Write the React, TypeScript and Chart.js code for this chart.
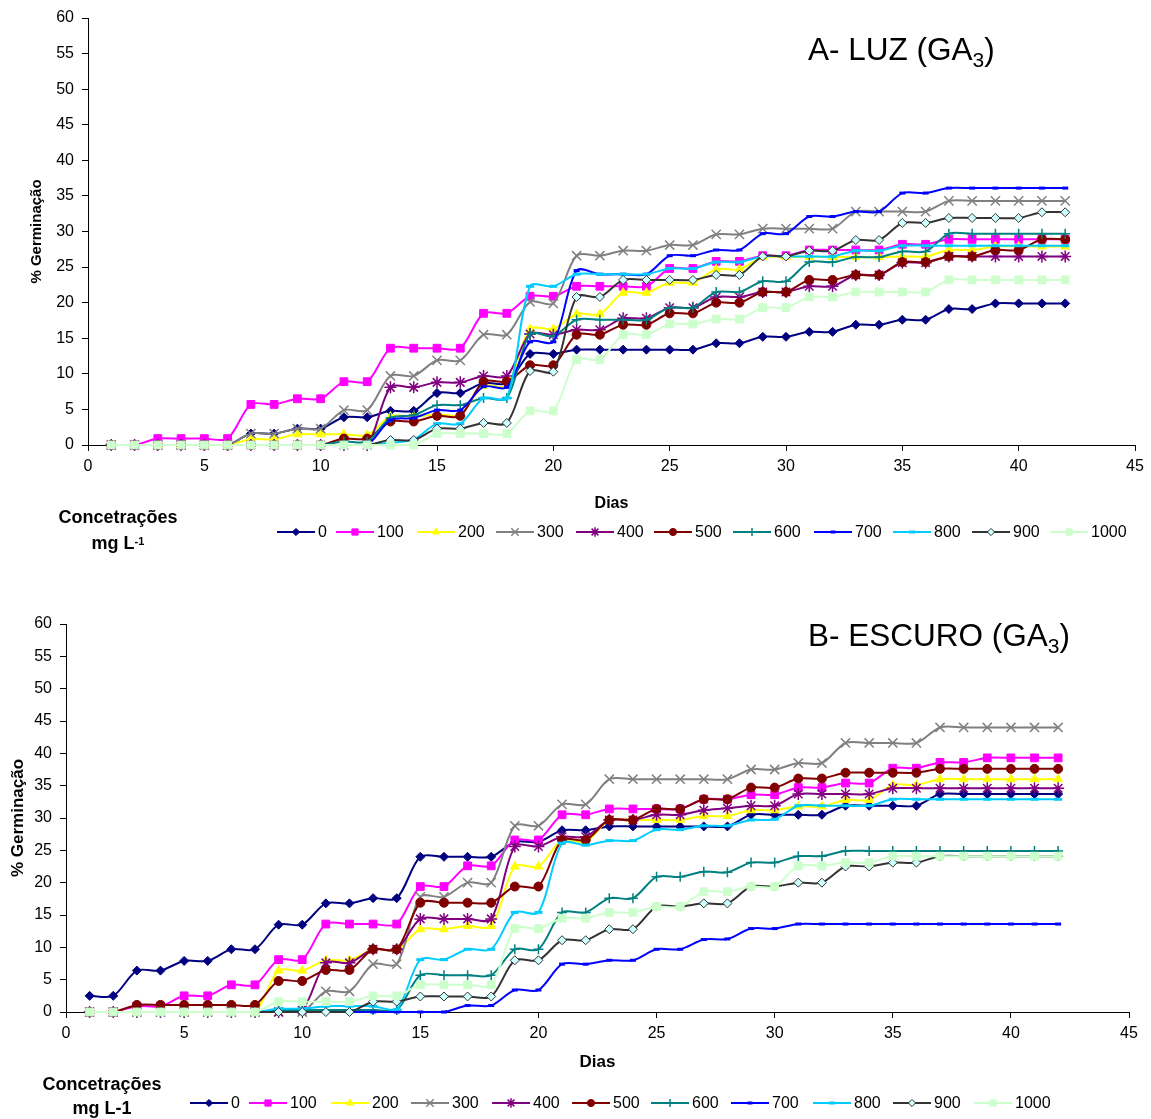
import React, { useEffect, useRef } from 'react';
import { Chart, registerables } from 'chart.js';
import { drawPoint } from 'chart.js/helpers';

Chart.register(...registerables);

// ---------- DATA ----------
const DAYS = [1,2,3,4,5,6,7,8,9,10,11,12,13,14,15,16,17,18,19,20,21,22,23,24,25,26,27,28,29,30,31,32,33,34,35,36,37,38,39,40,41,42];
const CONCENTRATIONS = ['0','100','200','300','400','500','600','700','800','900','1000'];
const X_TICKS = [0,5,10,15,20,25,30,35,40,45];
const Y_TICKS = [0,5,10,15,20,25,30,35,40,45,50,55,60];

// A - LUZ (GA3)
const A_0 = [0,0,0,0,0,0,1.6,1.6,2.3,2.3,3.9,3.9,4.8,4.8,7.3,7.3,8.7,8.7,12.8,12.8,13.4,13.4,13.4,13.4,13.4,13.4,14.3,14.3,15.2,15.2,15.9,15.9,16.9,16.9,17.6,17.6,19.1,19.1,19.9,19.9,19.9,19.9];
const A_100 = [0,0,0.9,0.9,0.9,0.9,5.7,5.7,6.5,6.5,8.9,8.9,13.6,13.6,13.6,13.6,18.5,18.5,20.9,20.9,22.3,22.3,22.3,22.3,24.8,24.8,25.8,25.8,26.6,26.6,27.4,27.4,27.4,27.4,28.2,28.2,28.9,28.9,28.9,28.9,28.9,28.9];
const A_200 = [0,0,0,0,0,0,0.8,0.8,1.5,1.5,1.5,1.4,4.0,4.0,4.3,4.3,8.3,8.3,16.3,16.3,18.4,18.4,21.4,21.4,22.8,22.8,24.7,24.7,26.4,26.4,26.4,26.4,26.4,26.4,26.5,26.5,27.4,27.4,27.9,27.9,27.9,27.9];
const A_300 = [0,0,0,0,0,0,1.6,1.6,2.3,2.3,4.9,4.9,9.7,9.7,11.9,11.9,15.5,15.5,20.1,19.9,26.6,26.6,27.3,27.3,28.1,28.1,29.6,29.6,30.4,30.4,30.4,30.4,32.8,32.8,32.8,32.8,34.3,34.3,34.3,34.3,34.3,34.3];
const A_400 = [0,0,0,0,0,0,0,0,0,0,0,0,8.1,8.1,8.8,8.8,9.7,9.7,15.6,15.5,16.2,16.2,17.8,17.8,19.3,19.3,20.8,20.8,21.5,21.5,22.3,22.3,23.9,23.9,25.6,25.6,26.5,26.5,26.5,26.5,26.5,26.5];
const A_500 = [0,0,0,0,0,0,0,0,0,0,0.9,0.9,3.3,3.3,4.1,4.1,8.9,8.9,11.2,11.2,15.5,15.5,16.9,16.9,18.5,18.5,20.0,20.0,21.5,21.5,23.2,23.2,23.9,23.9,25.7,25.7,26.5,26.5,27.4,27.4,28.9,28.9];
const A_600 = [0,0,0,0,0,0,0,0,0,0,0.5,0.5,3.8,4.2,5.6,5.6,6.6,6.6,15.6,15.3,17.6,17.6,17.6,17.6,19.3,19.3,21.5,21.5,23.0,23.0,25.7,25.7,26.4,26.4,27.2,27.2,29.7,29.7,29.7,29.7,29.7,29.7];
const A_700 = [0,0,0,0,0,0,0,0,0,0,0,0,3.5,3.8,4.9,4.9,8.2,8.1,14.5,14.5,24.5,24.0,24.0,24.0,26.6,26.6,27.4,27.4,29.7,29.7,32.1,32.1,32.8,32.8,35.4,35.4,36.1,36.1,36.1,36.1,36.1,36.1];
const A_800 = [0,0,0,0,0,0,0,0,0,0,0,0,0.3,0.8,3.0,3.0,6.6,6.6,22.3,22.3,24.0,24.0,24.0,24.0,24.8,24.8,25.7,25.7,26.5,26.5,26.5,26.5,27.3,27.3,28.0,28.0,28.0,28.0,28.0,28.0,28.0,28.0];
const A_900 = [0,0,0,0,0,0,0,0,0,0,0,0,0.7,0.7,2.3,2.3,3.1,3.1,10.4,10.3,20.8,20.8,23.2,23.2,23.2,23.2,23.9,23.9,26.5,26.5,27.3,27.3,28.8,28.8,31.2,31.2,31.9,31.9,31.9,31.9,32.7,32.7];
const A_1000 = [0,0,0,0,0,0,0,0,0,0,0,0,0,0,1.6,1.6,1.6,1.6,4.8,4.8,12.0,12.0,15.5,15.5,17.0,17.0,17.7,17.7,19.3,19.3,20.8,20.8,21.5,21.5,21.5,21.5,23.2,23.2,23.2,23.2,23.2,23.2];

// B - ESCURO (GA3)
const B_0 = [2.5,2.5,6.4,6.4,7.9,7.9,9.7,9.7,13.5,13.5,16.8,16.8,17.6,17.6,24.0,24.0,24.0,24.0,26.3,26.3,28.1,28.1,28.7,28.7,28.7,28.7,28.7,28.7,30.5,30.5,30.5,30.5,31.9,31.9,31.9,31.9,33.7,33.7,33.7,33.7,33.7,33.7];
const B_100 = [0,0,0.9,0.9,2.5,2.5,4.2,4.2,8.1,8.1,13.6,13.6,13.6,13.6,19.4,19.4,22.6,22.6,26.6,26.6,30.5,30.5,31.4,31.4,31.4,31.4,32.9,32.9,33.6,33.6,34.7,34.7,35.4,35.4,37.7,37.7,38.6,38.6,39.3,39.3,39.3,39.3];
const B_200 = [0,0,0,0,0,0,0,0,6.4,6.4,8.0,8.0,9.7,9.6,12.8,12.8,13.3,13.3,22.5,22.5,26.6,26.3,29.7,29.7,29.7,29.7,30.3,30.3,31.2,31.2,31.8,31.8,32.8,32.8,35.1,35.1,36.0,36.0,36.0,36.0,36.0,36.0];
const B_300 = [0,0,0,0,0,0,0,0,0,0,3.2,3.2,7.4,7.4,17.8,17.8,20.0,20.0,28.8,28.8,32.1,32.1,36.0,36.0,36.0,36.0,36.0,36.0,37.5,37.5,38.5,38.5,41.6,41.6,41.6,41.6,44.0,44.0,44.0,44.0,44.0,44.0];
const B_400 = [0,0,0,0,0,0,0,0,0,0.3,7.6,7.6,9.7,9.7,14.4,14.4,14.4,14.4,25.6,25.6,27.1,27.1,29.7,29.7,30.5,30.5,31.2,31.5,31.9,31.9,33.7,33.7,33.7,33.7,34.6,34.6,34.6,34.6,34.6,34.6,34.6,34.6];
const B_500 = [0,0,1.1,1.1,1.1,1.1,1.1,1.1,4.8,4.8,6.5,6.5,9.7,9.7,16.9,16.9,16.9,16.9,19.4,19.4,26.6,26.6,29.7,29.7,31.4,31.4,32.9,32.9,34.7,34.7,36.1,36.1,37.0,37.0,37.0,37.0,37.6,37.6,37.6,37.6,37.6,37.6];
const B_600 = [0,0,0,0,0,0,0,0,0.3,0.3,0.3,0.3,0.3,0.3,5.7,5.7,5.7,5.7,9.7,9.7,15.4,15.4,17.6,17.6,20.9,20.9,21.7,21.6,23.1,23.1,24.1,24.1,24.9,24.9,24.9,24.9,24.9,24.9,24.9,24.9,24.9,24.9];
const B_700 = [0,0,0,0,0,0,0,0,0,0,0,0,0,0,0,0,1.0,1.0,3.4,3.4,7.4,7.4,8.0,8.0,9.7,9.7,11.2,11.3,12.9,12.9,13.6,13.6,13.6,13.6,13.6,13.6,13.6,13.6,13.6,13.6,13.6,13.6];
const B_800 = [0,0,0,0,0,0,0,0,0.5,0.5,0.9,0.9,0.9,0.4,8.1,8.1,9.7,9.7,15.4,15.4,26.1,25.8,26.5,26.5,28.2,28.2,28.8,28.8,29.7,29.8,31.9,31.9,31.9,31.9,32.9,32.9,32.9,32.9,32.9,32.9,32.9,32.9];
const B_900 = [0,0,0,0,0,0,0,0,0,0,0,0,1.6,1.6,2.4,2.4,2.4,2.4,8.0,8.0,11.1,11.1,12.8,12.8,16.3,16.3,16.8,16.8,19.4,19.4,20.0,20.0,22.5,22.5,23.1,23.1,24.1,24.1,24.1,24.1,24.1,24.1];
const B_1000 = [0,0,0,0,0,0,0,0,1.6,1.6,1.6,1.6,2.5,2.5,4.2,4.2,4.2,4.2,12.9,12.9,14.5,14.5,15.4,15.4,16.3,16.3,18.6,18.6,19.4,19.4,22.6,22.6,23.1,23.1,24.1,24.1,24.1,24.1,24.1,24.1,24.1,24.1];

const SERIES_A = [A_0, A_100, A_200, A_300, A_400, A_500, A_600, A_700, A_800, A_900, A_1000];
const SERIES_B = [B_0, B_100, B_200, B_300, B_400, B_500, B_600, B_700, B_800, B_900, B_1000];

// ---------- STYLES ----------
type Sty = { line: string; fill: string; border: string; point: string; r: number; pbw: number };
const STYLES: Sty[] = [
  { line: '#000080', fill: '#000080', border: '#000080', point: 'rectRot', r: 4.5, pbw: 1 },
  { line: '#FF00FF', fill: '#FF00FF', border: '#FF00FF', point: 'rect', r: 5.5, pbw: 1 },
  { line: '#FFFF00', fill: '#FFFF00', border: '#FFFF00', point: 'triangle', r: 5, pbw: 1 },
  { line: '#808080', fill: '#808080', border: '#808080', point: 'crossRot', r: 6.5, pbw: 1.5 },
  { line: '#800080', fill: '#800080', border: '#800080', point: 'star', r: 6, pbw: 1.5 },
  { line: '#800000', fill: '#800000', border: '#800000', point: 'circle', r: 4.5, pbw: 1 },
  { line: '#008080', fill: '#008080', border: '#008080', point: 'cross', r: 5, pbw: 1.5 },
  { line: '#0000FF', fill: '#0000FF', border: '#0000FF', point: 'line', r: 3, pbw: 3 },
  { line: '#00CCFF', fill: '#00CCFF', border: '#00CCFF', point: 'line', r: 4, pbw: 3 },
  { line: '#333333', fill: '#CCFFFF', border: '#333333', point: 'rectRot', r: 4.5, pbw: 1 },
  { line: '#CCFFCC', fill: '#CCFFCC', border: '#CCFFCC', point: 'rect', r: 5.5, pbw: 1 },
];

const FONT = '"Liberation Sans", Arial, sans-serif';

type PanelCfg = {
  series: number[][];
  height: number;
  padTop: number;
  padRight: number;
  yWidth: number;
  xHeight: number;
  yTitleSize: number;
  yTitlePad: number;
  xTitleSize: number;
  xTitlePad: number;
  legendY: number;
  legendX: number[];
  legendHalf: number;
};

function makeLegendPlugin(cfg: PanelCfg) {
  return {
    id: 'excelLegend',
    afterDraw(chart: any) {
      const ctx = chart.ctx as CanvasRenderingContext2D;
      ctx.save();
      cfg.legendX.forEach((mx, i) => {
        const s = STYLES[i];
        const y = cfg.legendY;
        ctx.strokeStyle = s.line;
        ctx.lineWidth = 2;
        ctx.beginPath();
        ctx.moveTo(mx - cfg.legendHalf, y);
        ctx.lineTo(mx + cfg.legendHalf, y);
        ctx.stroke();
        ctx.fillStyle = s.fill;
        ctx.strokeStyle = s.border;
        ctx.lineWidth = s.pbw;
        drawPoint(ctx, { pointStyle: s.point as any, radius: s.r * 0.8, rotation: 0, borderWidth: s.pbw }, mx, y);
        ctx.fillStyle = '#000';
        ctx.font = `16px ${FONT}`;
        ctx.textBaseline = 'middle';
        ctx.textAlign = 'left';
        ctx.fillText(CONCENTRATIONS[i], mx + cfg.legendHalf + 3, y + 1);
      });
      ctx.restore();
    },
  };
}

function Panel({ cfg }: { cfg: PanelCfg }) {
  const ref = useRef<HTMLCanvasElement | null>(null);
  useEffect(() => {
    if (!ref.current) return;
    const datasets = cfg.series.map((vals, i) => {
      const s = STYLES[i];
      return {
        label: CONCENTRATIONS[i],
        data: DAYS.map((d, k) => ({ x: d, y: vals[k] })),
        borderColor: s.line,
        backgroundColor: s.fill,
        borderWidth: 2,
        pointStyle: s.point,
        pointRadius: s.r,
        pointBackgroundColor: s.fill,
        pointBorderColor: s.border,
        pointBorderWidth: s.pbw,
        tension: 0.3,
        clip: false as any,
        order: 100 - i,
      };
    });
    const chart = new Chart(ref.current, {
      type: 'line',
      data: { datasets: datasets as any },
      plugins: [makeLegendPlugin(cfg)],
      options: {
        animation: false,
        responsive: false,
        maintainAspectRatio: false,
        layout: { padding: { left: 0, top: cfg.padTop, right: cfg.padRight, bottom: 0 } },
        plugins: { legend: { display: false }, tooltip: { enabled: false } },
        scales: {
          x: {
            type: 'linear',
            min: 0,
            max: 45,
            afterBuildTicks: (scale: any) => {
              scale.ticks = X_TICKS.map((v) => ({ value: v }));
            },
            afterFit: (scale: any) => {
              scale.height = cfg.xHeight;
            },
            ticks: { color: '#000', font: { family: FONT, size: 16 }, padding: 6, maxRotation: 0, autoSkip: false },
            grid: { display: true, drawOnChartArea: false, drawTicks: true, tickLength: 6, color: '#000', lineWidth: 1 },
            border: { display: true, color: '#000', width: 1 },
            title: {
              display: true,
              text: 'Dias',
              color: '#000',
              font: { family: FONT, size: cfg.xTitleSize, weight: 'bold' },
              padding: { top: 0, bottom: cfg.xTitlePad },
            },
          },
          y: {
            type: 'linear',
            min: 0,
            max: 60,
            afterBuildTicks: (scale: any) => {
              scale.ticks = Y_TICKS.map((v) => ({ value: v }));
            },
            afterFit: (scale: any) => {
              scale.width = cfg.yWidth;
            },
            ticks: { color: '#000', font: { family: FONT, size: 16 }, padding: 8 },
            grid: { display: true, drawOnChartArea: false, drawTicks: true, tickLength: 6, color: '#000', lineWidth: 1 },
            border: { display: true, color: '#000', width: 1 },
            title: {
              display: true,
              text: '% Germinação',
              color: '#000',
              font: { family: FONT, size: cfg.yTitleSize, weight: 'bold' },
              padding: { top: cfg.yTitlePad, bottom: 0 },
            },
          },
        },
      } as any,
    });
    return () => chart.destroy();
  }, [cfg]);
  return <canvas ref={ref} width={1151} height={cfg.height} style={{ display: 'block', width: 1151, height: cfg.height }} />;
}

const PANEL_A: PanelCfg = {
  series: SERIES_A,
  height: 560,
  padTop: 18,
  padRight: 16,
  yWidth: 88,
  xHeight: 115,
  yTitleSize: 15,
  yTitlePad: 28,
  xTitleSize: 16,
  xTitlePad: 47,
  legendY: 532,
  legendX: [296, 355, 436, 515, 595, 673, 752, 833, 912, 991, 1069],
  legendHalf: 19,
};

const PANEL_B: PanelCfg = {
  series: SERIES_B,
  height: 539,
  padTop: 44,
  padRight: 22,
  yWidth: 66,
  xHeight: 107,
  yTitleSize: 17,
  yTitlePad: 8,
  xTitleSize: 17,
  xTitlePad: 46,
  legendY: 523,
  legendX: [209, 268, 350, 430, 511, 591, 670, 750, 832, 912, 993],
  legendHalf: 19,
};

const textBase: React.CSSProperties = { position: 'absolute', fontFamily: FONT, color: '#000', whiteSpace: 'nowrap' };

export default function App() {
  return (
    <div style={{ position: 'absolute', left: 0, top: 0, width: 1151, height: 1119, background: '#fff', overflow: 'hidden' }}>
      <div style={{ position: 'absolute', left: 0, top: 0 }}>
        <Panel cfg={PANEL_A} />
      </div>
      <div style={{ position: 'absolute', left: 0, top: 580 }}>
        <Panel cfg={PANEL_B} />
      </div>

      <div style={{ ...textBase, left: 808, top: 34, fontSize: 31.5, lineHeight: '31px' }}>
        A- LUZ (GA<span style={{ fontSize: 21, position: 'relative', top: 7 }}>3</span>)
      </div>
      <div style={{ ...textBase, left: 808, top: 620, fontSize: 31.5, lineHeight: '31px' }}>
        B- ESCURO (GA<span style={{ fontSize: 21, position: 'relative', top: 7 }}>3</span>)
      </div>

      <div style={{ ...textBase, left: 18, width: 200, textAlign: 'center', top: 508, fontSize: 18, lineHeight: '18px', fontWeight: 'bold' }}>
        Concetrações
      </div>
      <div style={{ ...textBase, left: 18, width: 200, textAlign: 'center', top: 534, fontSize: 18, lineHeight: '18px', fontWeight: 'bold' }}>
        mg L<sup style={{ fontSize: 11, position: 'relative', top: -2, verticalAlign: 'top' }}>-1</sup>
      </div>
      <div style={{ ...textBase, left: 2, width: 200, textAlign: 'center', top: 1075, fontSize: 18, lineHeight: '18px', fontWeight: 'bold' }}>
        Concetrações
      </div>
      <div style={{ ...textBase, left: 2, width: 200, textAlign: 'center', top: 1099, fontSize: 18, lineHeight: '18px', fontWeight: 'bold' }}>
        mg L-1
      </div>
    </div>
  );
}
